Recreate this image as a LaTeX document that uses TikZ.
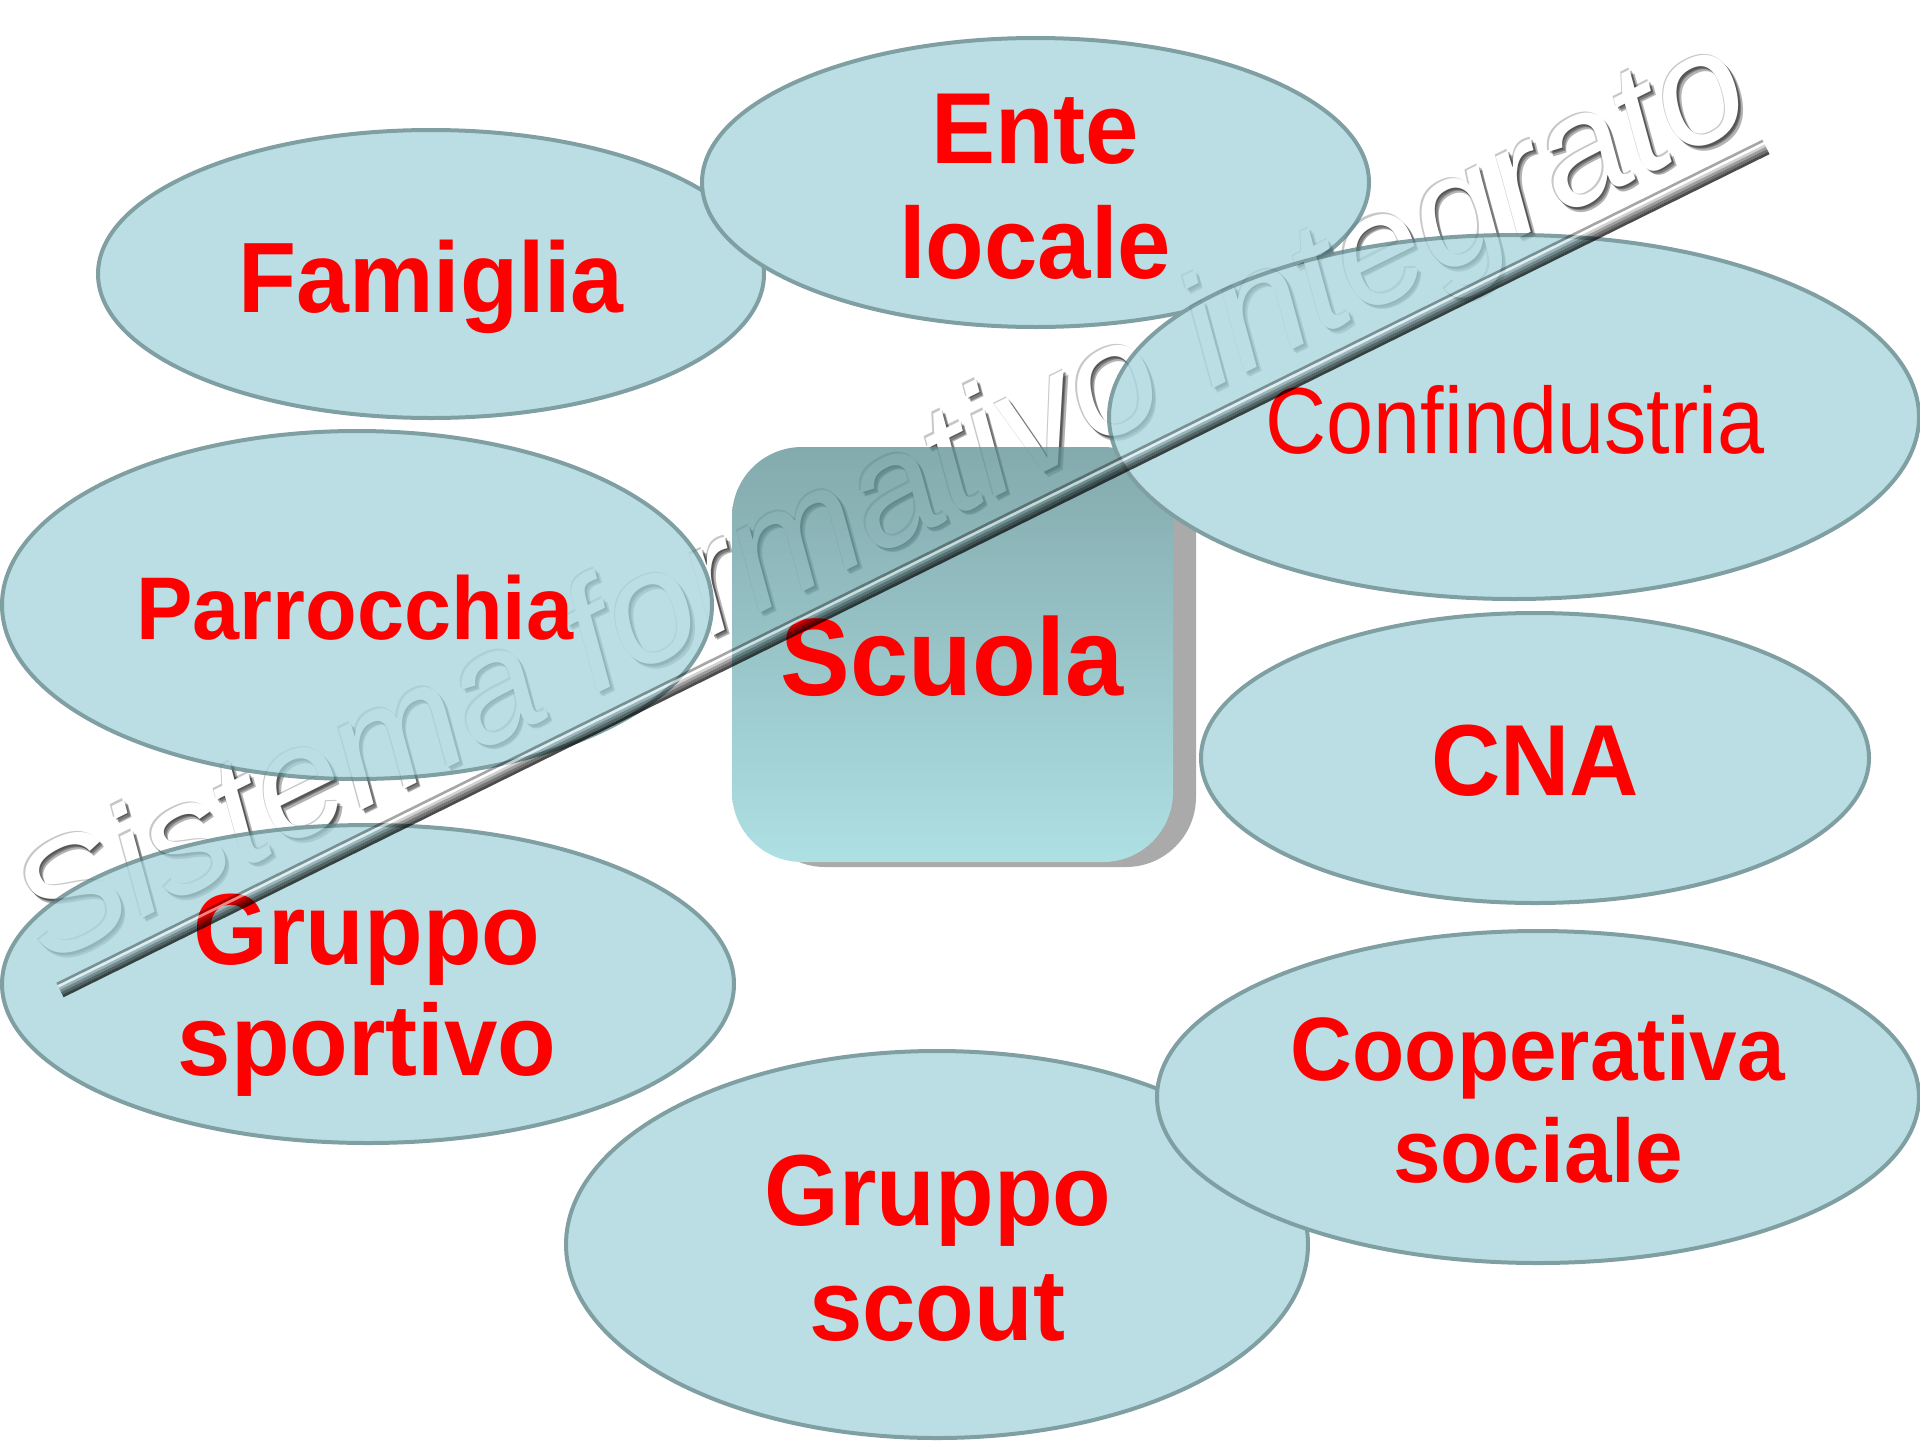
\documentclass[tikz,border=0pt]{standalone}
\usepackage{fontspec}
\usetikzlibrary{shapes.geometric}
\setmainfont{Liberation Sans}
\newfontfamily\labfont[FakeStretch=0.95]{Liberation Sans}
\newfontfamily\labregfont[FakeStretch=0.9]{Liberation Sans}
\newfontfamily\wmfont{Liberation Sans}
\definecolor{ellfill}{RGB}{164,212,218}
\definecolor{elldraw}{RGB}{85,128,132}
\definecolor{boxtop}{RGB}{91,142,146}
\definecolor{boxbot}{RGB}{147,214,219}
\definecolor{boxshadow}{RGB}{142,142,142}
\definecolor{labred}{RGB}{255,0,0}
\begin{document}
\begin{tikzpicture}[x=0.5pt,y=-0.5pt,
  bub/.style={ellipse, fill=ellfill, draw=elldraw, line width=2pt, inner sep=0pt},
  lab/.style={text=labred, anchor=base, inner sep=0pt, font=\labfont\bfseries\fontsize{50.5}{60}\selectfont},
  wmtext/.style={anchor=base, inner sep=0pt, rotate=26.3, font=\wmfont\itshape\fontsize{78.5}{80}\selectfont},
  barline/.style={line width=1.35pt, line cap=butt}]
\fill[white] (0,0) rectangle (1920,1440);
\useasboundingbox (0,0) rectangle (1920,1440);

% watermark text (under the translucent shapes), embossed look
\node (wmhigh) [wmtext, text=black, opacity=0.22] at (901.3,540.9) {Sistema formativo integrato};
\node (wmsh1) [wmtext, text=black, opacity=0.3] at (904.3,543.9) {Sistema formativo integrato};
\node (wmsh2) [wmtext, text=black, opacity=0.3] at (905.8,545.4) {Sistema formativo integrato};
\node (wmsh3) [wmtext, text=black, opacity=0.3] at (907.3,546.9) {Sistema formativo integrato};
\node (wm) [wmtext, text=white] at (902.8,542.4) {Sistema formativo integrato};

% shapes
\begin{scope}[transparency group, opacity=0.75]
\node (famiglia) [bub, minimum width=333pt, minimum height=144pt] at (431,274) {};
\node (ente) [bub, minimum width=333.5pt, minimum height=144.5pt] at (1035.5,182.5) {};
\node (scuolashadow) [rectangle, rounded corners=35pt, fill=boxshadow, minimum width=220.5pt, minimum height=207.5pt, inner sep=0pt] at (975.5,659.5) {};
\node (scuolabox) [rectangle, rounded corners=35pt, top color=boxtop, bottom color=boxbot, minimum width=220.5pt, minimum height=207.5pt, inner sep=0pt] at (952.5,654.5) {};
\node (confind) [bub, minimum width=405pt, minimum height=182pt] at (1514,417) {};
\node (parrocchia) [bub, minimum width=355pt, minimum height=174pt] at (357,605) {};
\node (cna) [bub, minimum width=334pt, minimum height=145pt] at (1535,758) {};
\node (sportivo) [bub, minimum width=366pt, minimum height=159pt] at (368,984) {};
\node (scout) [bub, minimum width=371pt, minimum height=193.5pt] at (937,1244.5) {};
\node (coop) [bub, minimum width=381pt, minimum height=166pt] at (1538,1097) {};
\end{scope}

% labels
\node (enteA) [lab] at (1035,163) {Ente};
\node (enteB) [lab] at (1035,278) {locale};
\node (famigliaT) [lab, font=\labfont\bfseries\fontsize{50}{60}\selectfont] at (431,312) {Famiglia};
\node (confindT) [lab, font=\labregfont\fontsize{47}{56}\selectfont] at (1515,453) {Confindustria};
\node (parrocchiaT) [lab, font=\labfont\bfseries\fontsize{44.5}{53}\selectfont] at (355,639) {Parrocchia};
\node (scuolaT) [lab, font=\labfont\bfseries\fontsize{55}{64}\selectfont] at (952,695) {Scuola};
\node (cnaT) [lab] at (1535,795) {CNA};
\node (sportA) [lab] at (367,964) {Gruppo};
\node (sportB) [lab] at (367,1075) {sportivo};
\node (coopA) [lab, font=\labfont\bfseries\fontsize{45}{54}\selectfont] at (1538,1080) {Cooperativa};
\node (coopB) [lab, font=\labfont\bfseries\fontsize{45}{54}\selectfont] at (1538,1182) {sociale};
\node (scoutA) [lab] at (938,1225) {Gruppo};
\node (scoutB) [lab] at (937,1340) {scout};

% bevelled bar of the watermark
\coordinate (barA) at (60,990);
\begin{scope}[shift={(barA)}, rotate=26.3]
\draw[barline, black, opacity=0.35] (0,-6.75) -- (1903,-6.75);
\draw[barline, white, opacity=0.5] (0,-4.05) -- (1903,-4.05);
\draw[barline, black, opacity=0.18] (0,-1.35) -- (1903,-1.35);
\draw[barline, black, opacity=0.38] (0,1.35) -- (1903,1.35);
\draw[barline, black, opacity=0.55] (0,4.05) -- (1903,4.05);
\draw[barline, black, opacity=0.7] (0,6.75) -- (1903,6.75);
\end{scope}
\end{tikzpicture}
\end{document}
